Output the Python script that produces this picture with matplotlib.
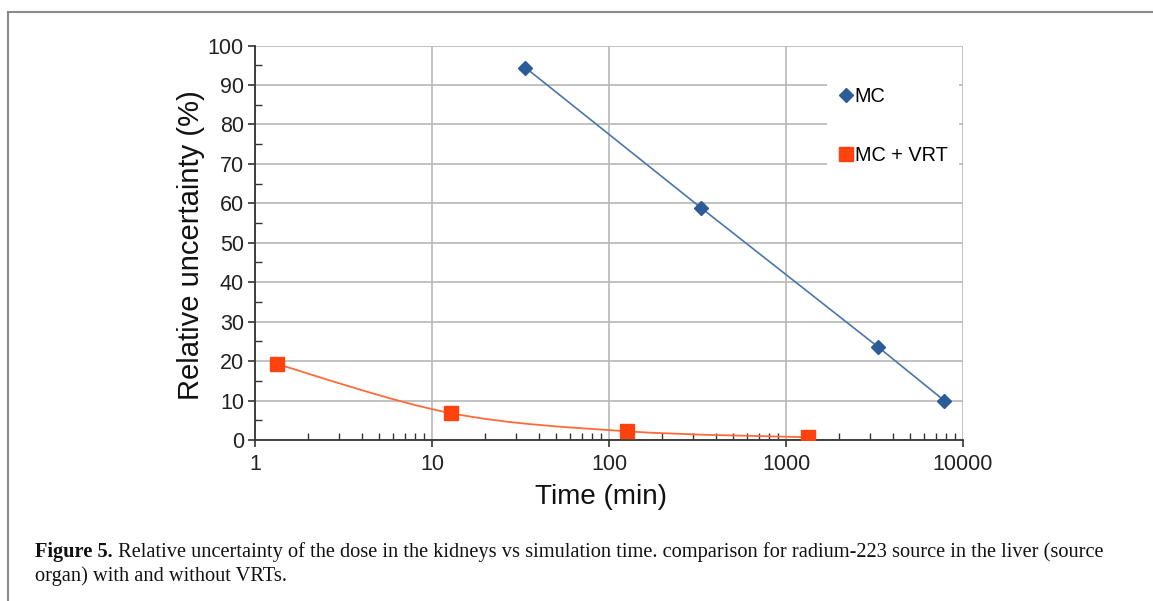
import matplotlib
matplotlib.use("Agg")
import matplotlib.pyplot as plt
import numpy as np
from matplotlib.path import Path
from matplotlib.patches import PathPatch
from matplotlib.lines import Line2D
from matplotlib.text import Annotation
from matplotlib.ticker import FixedLocator, NullFormatter

# ---- data ----
mc_time = [33.7, 330, 3310, 7830]
mc_unc = [94.4, 58.9, 23.6, 10.0]
vrt_time = [1.34, 12.8, 127, 1325]
vrt_unc = [19.2, 6.8, 2.2, 0.7]
series_labels = ["MC", "MC + VRT"]
x_ticks = [1, 10, 100, 1000, 10000]
x_ticklabels = ["1", "10", "100", "1000", "10000"]
y_ticks = list(range(0, 101, 10))
xlabel = "Time (min)"
ylabel = "Relative uncertainty (%)"
caption_bold = "Figure 5."
caption_line1 = (" Relative uncertainty of the dose in the kidneys vs simulation time. "
                 "comparison for radium-223 source in the liver (source")
caption_line2 = "organ) with and without VRTs."

W, H = 1153, 601
fig = plt.figure(figsize=(W / 100, H / 100), dpi=100)
fig.patch.set_facecolor("white")

# frame lines (top and left)
fig.add_artist(Line2D([8 / W, 1.0], [1 - 12 / H, 1 - 12 / H], transform=fig.transFigure,
                      color="#8a8a8a", lw=1.5))
fig.add_artist(Line2D([8 / W, 8 / W], [1 - 12 / H, 0.0], transform=fig.transFigure,
                      color="#8a8a8a", lw=1.5))

ax = fig.add_axes([255 / W, 1 - 440 / H, (963 - 255) / W, (440 - 45.5) / H])
ax.set_xscale("log")
ax.set_xlim(1, 10000)
ax.set_ylim(0, 100)

tick_font = dict(family="Liberation Sans", size=15.5)
ax.set_xticks(x_ticks)
ax.set_xticklabels(x_ticklabels, fontdict=tick_font, color="#222222")
ax.set_yticks(y_ticks)
ax.set_yticklabels([str(v) for v in y_ticks], fontdict=tick_font, color="#222222")
ax.xaxis.set_minor_locator(FixedLocator([m * 10 ** d for d in range(4) for m in range(2, 10)]))
ax.xaxis.set_minor_formatter(NullFormatter())
ax.yaxis.set_minor_locator(FixedLocator(list(range(5, 100, 10))))
ax.tick_params(which="major", direction="out", length=5, width=1.2, color="#333333", pad=3)
ax.tick_params(which="minor", direction="in", length=5, width=1.0, color="#333333")
ax.tick_params(axis="x", which="major", pad=5)

for s in ["top", "right"]:
    ax.spines[s].set_visible(False)
for s in ["left", "bottom"]:
    ax.spines[s].set_color("#333333")
    ax.spines[s].set_linewidth(1.3)
ax.grid(True, which="major", color="#b8b8b8", lw=1.2)
ax.set_axisbelow(True)

ax.set_xlabel(xlabel, family="Liberation Sans", size=20, color="#111111")
ax.xaxis.set_label_coords((601 - 255) / (963 - 255), -(484 - 440) / (440 - 45.5))
ax.set_ylabel(ylabel, family="Liberation Sans", size=21, color="#111111")
ax.yaxis.set_label_coords(-(255 - 205) / (963 - 255), (440 - 245) / (440 - 45.5))

# MC series: straight segments
blue_line = "#4a76aa"
blue_mark = "#2b5c98"
ax.plot(mc_time, mc_unc, color=blue_line, lw=1.2, zorder=3)
ax.plot(mc_time, mc_unc, linestyle="none", marker="D", ms=7, color=blue_mark,
        mec=blue_mark, zorder=4)

# MC + VRT series: smooth (Catmull-Rom style Bezier in log-x space)
orange_line = "#ff6a3a"
orange_mark = "#ff420e"
lx = np.log10(vrt_time)
ly = np.array(vrt_unc, dtype=float)
pts = np.column_stack([lx, ly])
ext = np.vstack([pts[0], pts, pts[-1]])
verts = [tuple(pts[0])]
codes = [Path.MOVETO]
for i in range(len(pts) - 1):
    p0, p1, p2, p3 = ext[i], ext[i + 1], ext[i + 2], ext[i + 3]
    c1 = p1 + (p2 - p0) / 6.0
    c2 = p2 - (p3 - p1) / 6.0
    verts += [tuple(c1), tuple(c2), tuple(p2)]
    codes += [Path.CURVE4] * 3
verts = [(10 ** vx, vy) for vx, vy in verts]
ax.add_patch(PathPatch(Path(verts, codes), fill=False, edgecolor=orange_line, lw=1.3,
                       transform=ax.transData, zorder=3))
ax.plot(vrt_time, vrt_unc, linestyle="none", marker="s", ms=9.5, color=orange_mark,
        mec=orange_mark, zorder=4)

# legend
handles = [Line2D([], [], linestyle="none", marker="D", ms=7, color=blue_mark),
           Line2D([], [], linestyle="none", marker="s", ms=9.5, color=orange_mark)]
leg = ax.legend(handles, series_labels, loc="upper left",
                bbox_to_anchor=((827 - 255) / (963 - 255), (440 - 76) / (440 - 45.5)),
                frameon=True, fancybox=False, framealpha=1, facecolor="white",
                edgecolor="none", borderpad=0.55, labelspacing=2.0,
                handlelength=0.8, handletextpad=0.05, borderaxespad=0,
                prop=dict(family="Liberation Sans", size=14.3))
leg.get_frame().set_linewidth(0)
leg.set_zorder(5)

# caption
cap_font = dict(family="Liberation Serif", size=14.7, color="#111111")
t1 = fig.text(35 / W, 1 - 557 / H, caption_bold, fontweight="bold", va="baseline", **cap_font)
fig.add_artist(Annotation(caption_line1, xy=(1, 0), xycoords=t1, va="bottom", ha="left",
                          annotation_clip=False, **cap_font))
fig.text(35 / W, 1 - 581 / H, caption_line2, va="baseline", **cap_font)

fig.savefig("out.png", dpi=100, facecolor="white")
